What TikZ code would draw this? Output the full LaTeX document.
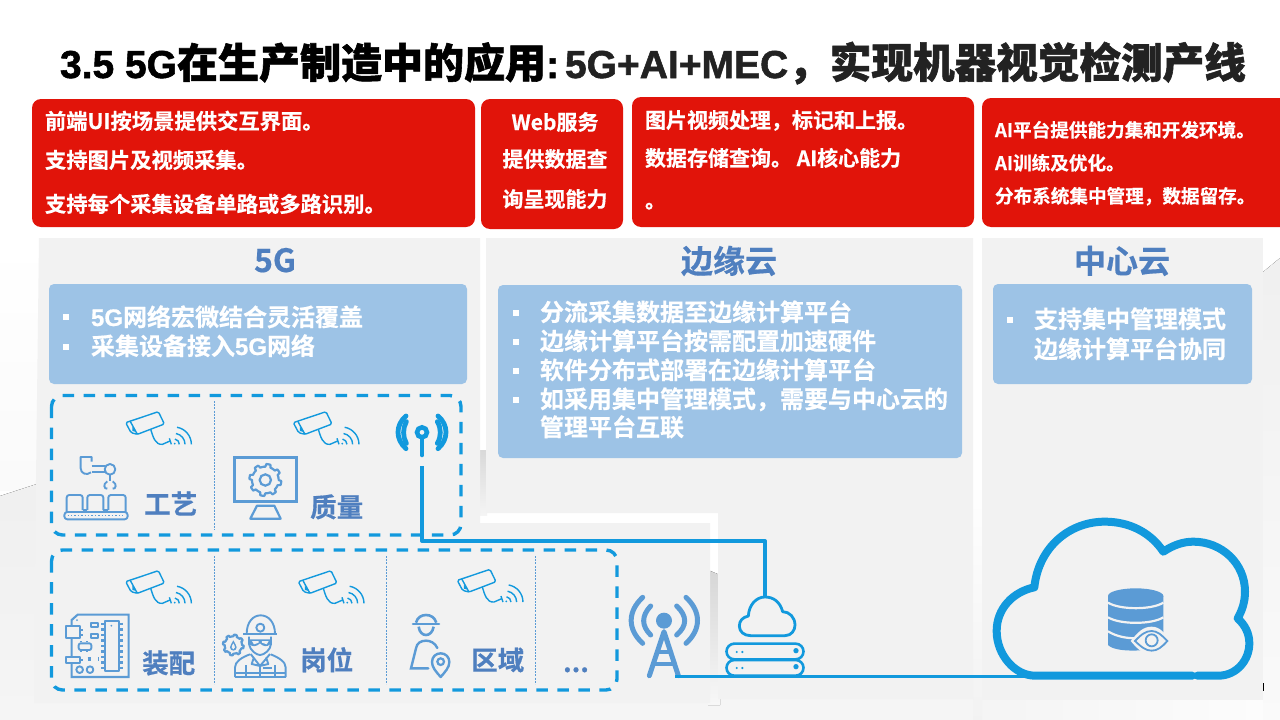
\documentclass[tikz,border=0pt]{standalone}
\usepackage{fontspec}
\setmainfont{Noto Sans CJK SC}[BoldFont={* Bold},BoldFeatures={FakeBold=0.5}]
\newfontfamily\latinfont{Liberation Sans}[BoldFont={* Bold},BoldFeatures={FakeBold=0.5}]
\newfontfamily\titlecjk{Noto Sans CJK SC Bold}[FakeBold=1.4]
\newfontfamily\titlelatin{Liberation Sans Bold}[FakeBold=1.4]
\usetikzlibrary{calc}
\definecolor{redbox}{HTML}{E1140A}
\definecolor{bluebox}{HTML}{9DC3E6}
\definecolor{panel}{HTML}{F2F2F2}
\definecolor{wire}{HTML}{1299DD}
\definecolor{icon}{HTML}{5B9BD5}
\definecolor{labelblue}{HTML}{4F7FBF}
\definecolor{titledark}{HTML}{222222}
\tikzset{
  redpanel/.style={fill=redbox,rounded corners=9pt,draw=none},
  bluepanel/.style={fill=bluebox,rounded corners=5pt,draw=none},
  graypanel/.style={fill=panel,draw=none},
  txt/.style={inner sep=0pt,outer sep=0pt,anchor=base west,font=\bfseries},
  redtxt/.style={txt,text=white,font=\bfseries\fontsize{#1}{#1}\selectfont},
  listtxt/.style={txt,text=white,font=\bfseries\fontsize{24}{24}\selectfont},
  headtxt/.style={inner sep=0pt,anchor=base,text=labelblue,font=\bfseries\fontsize{#1}{#1}\selectfont},
  lab/.style={inner sep=0pt,anchor=base west,text=labelblue,font=\bfseries\fontsize{26.5}{26.5}\selectfont},
  bul/.style={fill=white,draw=none,inner sep=0pt,minimum size=6.5pt,rectangle},
  dashbox/.style={draw=wire,line width=3.4pt,rounded corners=11pt,dash pattern=on 11.5pt off 9.5pt},
  divider/.style={draw=icon,line width=.9pt,dash pattern=on 2pt off 1.2pt},
  wireline/.style={draw=wire,line width=4pt,line join=round},
  iconline/.style={draw=icon,line width=1.9pt,line join=round},
  camline/.style={draw=wire,line width=1.4pt,line join=round},
  zoomed/.style={shift={#1},x=.33333pt,y=-.33333pt},
}
\newcommand{\camicon}[1]{%
  \begin{scope}[zoomed={#1}]
    \draw[camline,rounded corners=1.5pt] (0,38)--(98,5)--(116,42)--(35,73)--(16,68)--cycle;
    \draw[camline] (13,33)--(35,73);
    \fill[wire] (20,50)--(32,66)--(20,63)--cycle;
    \draw[camline] (75,58) .. controls (82,80) and (88,105) .. (110,103) -- (133,93);
    \draw[camline] (131,85)--(137,103);
    \draw[camline] (145,103) ++(-80:16) arc (-80:0:16);
    \draw[camline] (145,103) ++(-80:33) arc (-80:0:33);
    \draw[camline] (145,103) ++(-80:52) arc (-80:0:52);
    \fill[wire] (147,101) circle (3);
  \end{scope}}
\newcommand{\gearicon}[3]{% cx cy R
  \draw[icon,line width=2.2pt,line join=round,fill=panel] plot[domain=0:360,samples=97,variable=\t]
    ({#1+(#3+#3*0.2*(sin(8*\t)>0))*cos(\t)},{#2+(#3+#3*0.2*(sin(8*\t)>0))*sin(\t)}) -- cycle;}
\begin{document}
\begin{tikzpicture}[x=1pt,y=-1pt]
\useasboundingbox (0,0) rectangle (1280,720);
% ---------- backdrop
\fill[white] (0,0) rectangle (1280,720);
\fill[top color=white,bottom color=white!98!black] (0,238) rectangle (40,490);
\fill[top color=white!94!black,bottom color=white!96!black] (0,496)--(40,483)--(40,720)--(0,720)--cycle;
\fill[white!96!black] (0,696) rectangle (1000,720);
\fill[left color=white!96!black,right color=white!99!black] (1000,696) rectangle (1280,720);
\fill[top color=white!94!black,bottom color=white!98!black] (1263,272)--(1280,258)--(1280,720)--(1263,720)--cycle;
\fill[top color=white,bottom color=white!95!black] (973,480) rectangle (982,720);
\fill[top color=white!85!black,bottom color=white!96!black] (478,450) rectangle (487,515);
\fill[top color=white!84!black,bottom color=white!97!black] (708,570)--(720,575)--(720,705)--(708,705)--cycle;
% ---------- panels
\fill[graypanel] (39,238)--(480,238)--(480,523)--(710,523)--(710,703)--(34,703)--(36,480)--cycle;
\fill[graypanel] (486,238)--(973,238)--(973,699)--(718,699)--(718,513)--(486,513)--cycle;
\fill[graypanel] (982,238) rectangle (1263,700);
% ---------- title
\node[txt,anchor=base west,text=black] (titleA) at (60,78)
  {{\titlelatin\fontsize{39}{39}\selectfont 3.5 5G}{\titlecjk\fontsize{41}{41}\selectfont 在生产制造中的应用}{\titlelatin\fontsize{39}{39}\selectfont :}};
\node[txt,anchor=base west,text=titledark] (titleB) at (565,78)
  {{\titlelatin\fontsize{39}{39}\selectfont 5G+AI+MEC}{\titlecjk\fontsize{41.6}{41.6}\selectfont ，实现机器视觉检测产线}};
% ---------- red boxes
\fill[redpanel] (32,99) rectangle (475,227);
\fill[redpanel] (481,99) rectangle (623,229);
\fill[redpanel] (632,97) rectangle (974,227);
\fill[redpanel] (982,98) rectangle (1290,227);
\node[redtxt=21.3] (a1) at (45,129) {前端UI按场景提供交互界面。};
\node[redtxt=21.3] (a2) at (45,168) {支持图片及视频采集。};
\node[redtxt=21.3] (a3) at (45,212) {支持每个采集设备单路或多路识别。};
\node[redtxt=21,anchor=base] (b1) at (555,130) {Web服务};
\node[redtxt=21,anchor=base] (b2) at (555,167) {提供数据查};
\node[redtxt=21,anchor=base] (b3) at (555,207) {询呈现能力};
\node[redtxt=21] (c1) at (645,128) {图片视频处理，标记和上报。};
\node[redtxt=21] (c2) at (645,166) {数据存储查询。 AI核心能力};
\node[redtxt=21] (c3) at (645,208) {。};
\node[redtxt=18.6] (d1) at (995,137) {AI平台提供能力集和开发环境。};
\node[redtxt=18.6] (d2) at (995,170) {AI训练及优化。};
\node[redtxt=18.6] (d3) at (995,203) {分布系统集中管理，数据留存。};
% ---------- panel headings
\node[headtxt=32] (h1) at (275,272) {5G};
\node[headtxt=32] (h2) at (729,273) {边缘云};
\node[headtxt=32] (h3) at (1122,273) {中心云};
% ---------- blue boxes
\fill[bluepanel] (49,284) rectangle (467,384);
\fill[bluepanel] (498,285) rectangle (962,458);
\fill[bluepanel] (993,284) rectangle (1252,384);
\node[bul] (p1) at (66,317) {};
\node[bul] (p2) at (66,347) {};
\node[listtxt] (t1) at (91,326) {{\latinfont\bfseries 5G}网络宏微结合灵活覆盖};
\node[listtxt] (t2) at (91,355) {采集设备接入{\latinfont\bfseries 5G}网络};
\node[bul] (q1) at (516,313) {};
\node[bul] (q2) at (516,342) {};
\node[bul] (q3) at (516,371) {};
\node[bul] (q4) at (516,400) {};
\node[listtxt] (u1) at (540,321) {分流采集数据至边缘计算平台};
\node[listtxt] (u2) at (540,350) {边缘计算平台按需配置加速硬件};
\node[listtxt] (u3) at (540,379) {软件分布式部署在边缘计算平台};
\node[listtxt] (u4) at (540,408) {如采用集中管理模式，需要与中心云的};
\node[listtxt] (u5) at (540,436) {管理平台互联};
\node[bul] (r1) at (1010,320) {};
\node[listtxt] (v1) at (1034,328) {支持集中管理模式};
\node[listtxt] (v2) at (1034,358) {边缘计算平台协同};
% ---------- dashed groups
\draw[dashbox] (51.5,395.5) rectangle (461,535);
\draw[dashbox] (51.5,550) rectangle (617,690);
\draw[divider] (214.3,401)--(214.3,530);
\draw[divider] (214.3,556)--(214.3,684);
\draw[divider] (386.3,556)--(386.3,684);
\draw[divider] (535.3,556)--(535.3,684);
% ---------- cameras
\camicon{(125.7,410)}
\camicon{(293.3,410)}
\camicon{(125.7,569)}
\camicon{(298.3,569)}
\camicon{(457.3,567.7)}
% ---------- labels
\node[lab] (l1) at (144,514) {工艺};
\node[lab] (l2) at (310,517) {质量};
\node[lab] (l3) at (142,673) {装配};
\node[lab] (l4) at (300,670) {岗位};
\node[lab] (l5) at (471,670) {区域};
\node[lab,anchor=base] (l6) at (576,672) {...};
% ---------- robot + conveyor
\begin{scope}[zoomed={(30,380)}]
  \draw[iconline] (185,245)--(185,231)--(152,231)--(152,265) .. controls (152,280) and (170,288) .. (183,277);
  \draw[iconline] (185,257)--(225,257) (185,275)--(225,275);
  \draw[iconline] (240,268) circle (16);
  \draw[iconline] (240,285)--(240,302);
  \draw[iconline] (232,304) .. controls (218,312) and (222,328) .. (232,326);
  \draw[iconline] (248,304) .. controls (262,312) and (258,328) .. (248,326);
  \draw[iconline,rounded corners=3pt] (103,396) rectangle (293,418);
  \draw[iconline,rounded corners=2.5pt] (110,396)--(110,345)--(158,345)--(158,390);
  \draw[iconline,rounded corners=2.5pt] (172,390)--(172,345)--(220,345)--(220,390);
  \draw[iconline,rounded corners=2.5pt] (235,390)--(235,345)--(287,345)--(287,396);
  \draw[iconline] (158,390)--(172,390) (220,390)--(235,390);
  \draw[icon,line width=1.3pt,dash pattern=on 1.4pt off 2pt] (113,406)--(285,406);
% ---------- monitor
  \draw[icon,line width=2.6pt] (613,233) rectangle (799,364);
  \draw[icon,line width=2.2pt,line join=round] (681,377)--(733,377)--(752,416)--(661,416)--cycle;
\end{scope}
\begin{scope}[zoomed={(30,380)}]
  \gearicon{706}{300}{40}
  \draw[icon,line width=2.2pt] (706,300) circle (17);
\end{scope}
% ---------- board
\begin{scope}[zoomed={(30,540)}]
  \draw[icon,line width=2.1pt] (143,224)--(296,224)--(296,411)--(125,411)--(125,240)--cycle;
  \draw[iconline] (224,242) rectangle (268,392);
  \draw[icon,line width=5pt,dash pattern=on 2.5pt off 3pt] (219,248)--(219,388) (273,248)--(273,388);
  \fill[icon] (141,240) circle (3) (244,257) circle (3);
  \draw[iconline,fill=panel] (107,258) rectangle (150,295);
  \draw[iconline] (150,270)--(160,270) (150,285)--(160,285);
  \draw[iconline] (182,248) rectangle (204,262) (182,281) rectangle (204,295);
  \draw[iconline,rounded corners=2pt] (146,310) rectangle (184,330);
  \draw[icon,line width=1.2pt,dash pattern=on 2pt off 4pt] (150,305)--(182,305) (150,335)--(182,335);
  \draw[iconline,fill=panel] (107,350) rectangle (150,370);
  \draw[iconline] (150,360)--(160,360);
  \draw[icon,line width=4pt,dash pattern=on 3.5pt off 7pt] (173,358)--(205,358);
  \draw[iconline] (149,389) circle (10) (180,389) circle (10);
% ---------- worker
  \draw[iconline] (650,282) .. controls (650,245) and (670,226) .. (692,226) .. controls (714,226) and (735,245) .. (735,282);
  \draw[iconline] (640,283)--(742,283);
  \draw[iconline] (691,263) circle (12);
  \draw[iconline] (657,290)--(657,312) .. controls (660,332) and (680,345) .. (690,345) .. controls (702,345) and (722,330) .. (723,312)--(723,290);
  \fill[icon] (657,298)--(724,298)--(722,312) .. controls (710,322) and (700,320) .. (690,310) .. controls (680,320) and (668,322) .. (657,312)--cycle;
  \fill[panel] (666,303)--(686,303)--(686,308)--(672,313)--cycle (696,303)--(716,303)--(710,313)--(696,308)--cycle;
  \draw[iconline] (615,411)--(615,382) .. controls (615,365) and (635,352) .. (660,343) (767,411)--(767,382) .. controls (767,365) and (745,352) .. (722,343);
  \draw[iconline] (615,411)--(767,411);
  \draw[iconline] (662,342)--(690,378)--(720,342) (672,352)--(665,372)--(690,378)--(715,372)--(708,352);
  \draw[iconline] (690,378)--(690,411);
  \draw[iconline] (647,375)--(647,411) (735,375)--(735,411) (615,398)--(767,398);
  \draw[iconline] (700,385)--(725,385);
\end{scope}
\begin{scope}[zoomed={(30,540)}]
  \gearicon{610}{315}{26}
  \fill[icon] (610,301) .. controls (606,310) and (600,316) .. (600,322) .. controls (600,335) and (620,335) .. (620,322) .. controls (620,316) and (614,310) .. (610,301) -- cycle;
  \fill[panel] (610,310) .. controls (608,315) and (605,318) .. (605,322) .. controls (605,330) and (615,330) .. (615,322) .. controls (615,318) and (612,315) .. (610,310) -- cycle;
\end{scope}
% ---------- surveyor + pin
\begin{scope}[zoomed={(330,400)}]
  \draw[icon,line width=2.6pt,line join=round] (258,668) .. controls (262,652) and (275,645) .. (288,645) .. controls (302,645) and (314,652) .. (319,668);
  \draw[icon,line width=2.6pt,line cap=round] (249,672)--(327,672);
  \draw[icon,line width=2.6pt] (266,680) .. controls (268,697) and (278,705) .. (288,705) .. controls (298,705) and (308,697) .. (311,680);
  \draw[icon,line width=2.4pt,line cap=round] (322,744) .. controls (315,728) and (300,722) .. (288,722) .. controls (272,722) and (260,730) .. (258,745)--(243,805)--(295,805);
  \draw[icon,line width=2.4pt,line join=round] (332,831) .. controls (318,815) and (306,802) .. (306,786) .. controls (306,770) and (318,760) .. (332,760) .. controls (346,760) and (358,770) .. (358,786) .. controls (358,802) and (346,815) .. (332,831) -- cycle;
  \draw[icon,line width=2.2pt] (332,785) circle (10);
\end{scope}
% ---------- top antenna
\begin{scope}[zoomed={(330,400)}]
  \draw[wire,line width=4.6pt] (276,97) circle (15);
  \draw[wire,line width=4.6pt,line cap=round] (276,114)--(276,165);
  \draw[wire,line width=4.8pt,line cap=round] (229,65) .. controls (218,85) and (218,110) .. (229,130);
  \draw[wire,line width=4.8pt,line cap=round] (322,65) .. controls (334,85) and (334,110) .. (322,130);
  \draw[wire,line width=4.8pt,line cap=round] (228,48) .. controls (196,75) and (196,118) .. (228,146);
  \draw[wire,line width=4.8pt,line cap=round] (324,48) .. controls (356,75) and (356,118) .. (324,146);
\end{scope}
% ---------- edge cloud + server
\begin{scope}[zoomed={(610,530)}]
  \draw[wire,line width=2.8pt,line join=round] (422,317)--(525,317) .. controls (545,317) and (555,300) .. (555,285) .. controls (555,262) and (538,245) .. (518,245) .. controls (510,215) and (490,201) .. (465,201) .. controls (438,201) and (417,225) .. (415,258) .. controls (398,262) and (388,272) .. (388,288) .. controls (388,305) and (402,317) .. (422,317);
  \draw[wire,line width=2.6pt] (373,341)--(557,341) arc (-90:90:23.5) -- (373,388) arc (90:270:23.5) -- cycle;
  \draw[wire,line width=2.6pt] (373,390)--(557,390) arc (-90:90:23.5) -- (373,437) arc (90:270:23.5) -- cycle;
  \fill[wire] (380,366) circle (3.5) (397,366) circle (3.5) (558,362) circle (8);
  \fill[wire] (380,414) circle (3.5) (397,414) circle (3.5) (558,410) circle (8);
% ---------- tower
  \fill[icon] (162,272) circle (24);
  \draw[icon,line width=5pt,line cap=round] (122,228) .. controls (94,258) and (94,287) .. (122,315);
  \draw[icon,line width=5pt,line cap=round] (200,228) .. controls (232,258) and (232,287) .. (200,315);
  \draw[icon,line width=5pt,line cap=round] (98,202) .. controls (52,245) and (52,298) .. (98,340);
  \draw[icon,line width=5pt,line cap=round] (228,202) .. controls (274,245) and (274,298) .. (228,340);
  \draw[icon,line width=5pt,line cap=round,line join=round] (118,437)--(162,305)--(205,437);
  \draw[icon,line width=4.5pt] (145,366)--(178,366) (132,402)--(192,402);
\end{scope}
% ---------- big cloud
\begin{scope}[zoomed={(980,500)}]
  \draw[wire,line width=8pt,line cap=round,line join=round]
    (652,527)--(715,527) .. controls (770,527) and (808,480) .. (808,430) .. controls (808,400) and (795,375) .. (773,355)
    .. controls (787,330) and (795,305) .. (795,275) .. controls (795,190) and (725,125) .. (640,125) .. controls (610,125) and (580,135) .. (550,155)
    .. controls (510,95) and (445,65) .. (375,65) .. controls (265,65) and (175,145) .. (163,262)
    .. controls (100,275) and (50,325) .. (50,393) .. controls (50,465) and (105,527) .. (165,527)--(637,527);
  \fill[icon] (384,288) arc (180:360:83 and 23) -- (550,435) .. controls (530,452) and (410,462) .. (384,435) -- cycle;
  \fill[icon] (384,288) arc (180:0:83 and 23) -- cycle;
  \draw[panel,line width=2.2pt] (384,308) .. controls (420,330) and (515,330) .. (550,308);
  \draw[panel,line width=2.2pt] (384,352) .. controls (420,374) and (515,374) .. (550,352);
  \draw[panel,line width=2.2pt] (384,394) .. controls (410,410) and (440,415) .. (470,415);
  \fill[panel] (452,423) .. controls (475,395) and (490,380) .. (515,380) .. controls (540,380) and (555,400) .. (572,423) .. controls (555,447) and (540,463) .. (515,463) .. controls (490,463) and (475,450) .. (452,423) -- cycle;
  \draw[icon,line width=1.8pt] (465,423) .. controls (485,402) and (498,393) .. (515,393) .. controls (532,393) and (545,405) .. (562,423) .. controls (545,442) and (532,452) .. (515,452) .. controls (498,452) and (485,442) .. (465,423) -- cycle;
  \draw[icon,line width=1.8pt] (515,421) circle (18);
\end{scope}
\draw[black,line width=.8pt] (1263.5,683)--(1263.5,691);
% ---------- connectors
\coordinate (antenna) at (422,466);
\coordinate (edgecloud) at (765,597);
\coordinate (tower) at (675,676);
\coordinate (bigcloud) at (1036,676);
\draw[wireline] (antenna) |- (edgecloud |- 0,541) -- (edgecloud);
\draw[wire,line width=3pt] (tower) -- (bigcloud);
\end{tikzpicture}
\end{document}
